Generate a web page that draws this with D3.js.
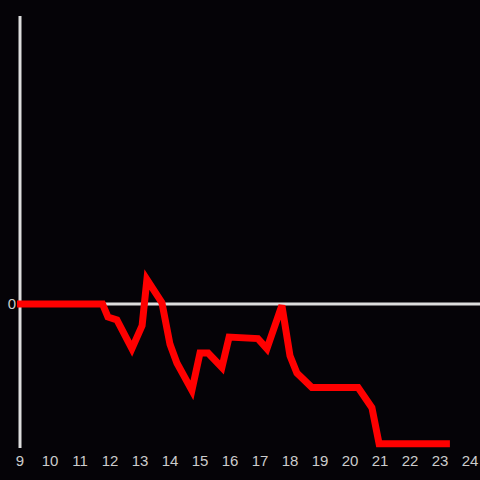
<!DOCTYPE html>
<html>
<head>
<meta charset="utf-8">
<script src="https://cdn.jsdelivr.net/npm/d3@7"></script>
<style>
  body { margin: 0; background: #050307; }
  svg { display: block; }
</style>
</head>
<body>
<div id="chart"></div>
<script>
// data (hour of day, value)
var hours  = [8.9, 11.75, 11.93, 12.23, 12.73, 13.07, 13.23, 13.73, 14, 14.23, 14.73, 15, 15.27, 15.73, 15.97,
              16.93, 17.23, 17.73, 18, 18.23, 18.73, 20.27, 20.73, 20.97, 23.33];
var values = [0, 0, -0.09, -0.11, -0.31, -0.15, 0.17, 0.01, -0.28, -0.41, -0.60, -0.34, -0.34, -0.44, -0.23,
              -0.24, -0.31, -0.01, -0.36, -0.48, -0.58, -0.58, -0.72, -0.97, -0.97];
var xTicks = [9, 10, 11, 12, 13, 14, 15, 16, 17, 18, 19, 20, 21, 22, 23, 24];
var yTicks = [0];

var width = 480, height = 480;

var svg = d3.select("#chart")
            .append("svg")
            .attr("width", width)
            .attr("height", height);

svg.append("rect")
   .attr("width", width)
   .attr("height", height)
   .attr("fill", "#050307");

var x = d3.scaleLinear()
          .domain([9, 24])
          .range([20, 470]);

var y = d3.scaleLinear()
          .domain([-1, 2])
          .range([448, 16]);

// y axis line
svg.append("line")
   .attr("x1", 20).attr("x2", 20)
   .attr("y1", 16).attr("y2", 448)
   .style("stroke", "#dddddd")
   .style("stroke-width", 3);

// zero line
svg.selectAll(".zero")
   .data(yTicks)
   .enter()
   .append("line")
   .attr("class", "zero")
   .attr("x1", 20).attr("x2", width)
   .attr("y1", function (d) { return y(d); })
   .attr("y2", function (d) { return y(d); })
   .style("stroke", "#dddddd")
   .style("stroke-width", 3);

// y tick labels
svg.selectAll(".ylab")
   .data(yTicks)
   .enter()
   .append("text")
   .attr("class", "ylab")
   .attr("x", 16)
   .attr("y", function (d) { return y(d); })
   .attr("dy", "0.35em")
   .attr("text-anchor", "end")
   .style("font-family", "Liberation Sans, Arial, sans-serif")
   .style("font-size", "15px")
   .style("fill", "#cccccc")
   .text(function (d) { return d; });

// x tick labels
svg.selectAll(".xlab")
   .data(xTicks)
   .enter()
   .append("text")
   .attr("class", "xlab")
   .attr("x", function (d) { return x(d); })
   .attr("y", 461)
   .attr("dy", "0.35em")
   .attr("text-anchor", "middle")
   .style("font-family", "Liberation Sans, Arial, sans-serif")
   .style("font-size", "15px")
   .style("fill", "#cccccc")
   .text(function (d) { return d; });

var line = d3.line()
             .x(function (d) { return x(d[0]); })
             .y(function (d) { return y(d[1]); });

svg.append("path")
   .datum(d3.zip(hours, values))
   .attr("d", line)
   .attr("fill", "none")
   .attr("stroke", "#ff0000")
   .attr("stroke-width", 7)
   .attr("stroke-linejoin", "miter");
</script>
</body>
</html>
